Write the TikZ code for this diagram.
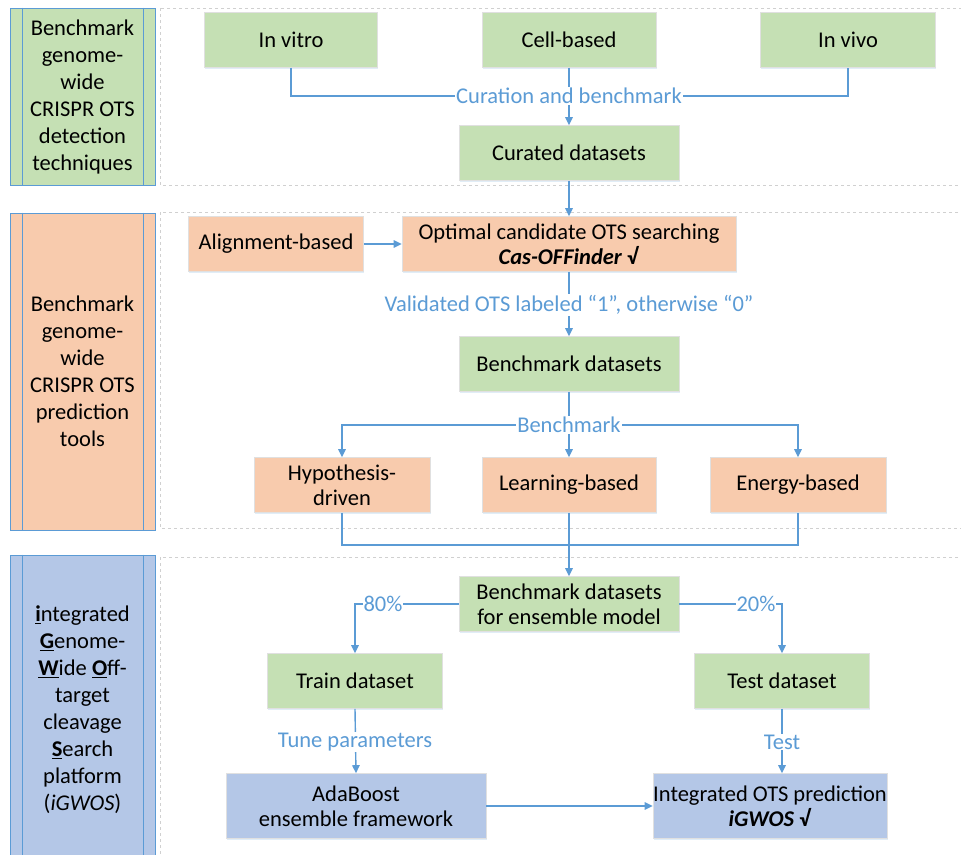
\documentclass[tikz,border=0pt]{standalone}
\usepackage{fontspec}
\setmainfont{Carlito}
\usetikzlibrary{arrows.meta,shadows}

\definecolor{boxgreen}{HTML}{C5E0B4}
\definecolor{boxorange}{HTML}{F8CBAD}
\definecolor{boxblue}{HTML}{B4C7E7}
\definecolor{flowblue}{HTML}{5B9BD5}
\definecolor{framegray}{HTML}{D0D0D0}

\tikzset{
	stage/.style={draw=black!12, line width=0.6pt, inner sep=0pt, align=center,
		minimum height=55pt, drop shadow={shadow xshift=0.6pt, shadow yshift=-1.8pt, opacity=0.18, fill=flowblue}},
	sidebar/.style={draw=flowblue, line width=1pt, inner sep=0pt, align=center,
		minimum width=145pt},
	flow/.style={draw=flowblue, line width=1.4pt},
	flowarrow/.style={flow, -{Triangle[length=8pt,width=7.5pt]}},
	flowlabel/.style={text=flowblue, fill=white, inner sep=1pt},
	panel/.style={draw=framegray, dashed, line width=0.8pt}
}
\newcommand{\ul}[1]{\underline{\textbf{#1}}}

\begin{document}
\begin{tikzpicture}[x=1pt, y=-1pt, font=\fontsize{22.5}{27}\selectfont]
	\useasboundingbox (0, 0) rectangle (961, 854);

	% Пунктирные рамки этапов
	\draw[panel] (160, 8) rectangle (975, 185);   % Рамка 1
	\draw[panel] (160, 212) rectangle (975, 528); % Рамка 2
	\draw[panel] (160, 557) rectangle (975, 870); % Рамка 3

	% Боковые подписи этапов
	\node[sidebar, fill=boxgreen, minimum height=177pt] (side1) at (82.5, 96.5)
		{Benchmark\\ genome-\\ wide\\ CRISPR OTS\\ detection\\ techniques};
	\node[sidebar, fill=boxorange, minimum height=317pt] (side2) at (82.5, 371.5)
		{Benchmark\\ genome-\\ wide\\ CRISPR OTS\\ prediction\\ tools};
	\node[sidebar, fill=boxblue, minimum height=310pt] (side3) at (82.5, 710)
		{\ul{i}ntegrated\\ \ul{G}enome-\\ \ul{W}ide \ul{O}ff-\\ target\\ cleavage\\ \ul{S}earch\\ platform\\ (\textit{iGWOS})};
	\foreach \s in {side1, side2, side3} {
		\draw[flowblue, line width=1pt] ([xshift=13pt]\s.north west) -- ([xshift=13pt]\s.south west);
		\draw[flowblue, line width=1pt] ([xshift=-12pt]\s.north east) -- ([xshift=-12pt]\s.south east);
	}

	% Этап 1: методы детекции
	\node[stage, fill=boxgreen, minimum width=173pt] (vitro) at (291, 40) {In vitro};
	\node[stage, fill=boxgreen, minimum width=174pt] (cell) at (569, 40) {Cell-based};
	\node[stage, fill=boxgreen, minimum width=175pt] (vivo) at (848, 40) {In vivo};
	\node[stage, fill=boxgreen, minimum width=220pt] (curated) at (569, 153) {Curated datasets};

	\coordinate (curL) at (291, 96);
	\coordinate (curR) at (848, 96);
	\draw[flow] (vitro.south) -- (curL) -- (curR) -- (vivo.south); % Линия сбора
	\draw[flowarrow] (cell.south) -- (curated.north);
	\node[flowlabel] (curlabel) at (569, 96) {Curation and benchmark};

	% Этап 2: инструменты предсказания
	\node[stage, fill=boxorange, minimum width=175pt] (align) at (276, 244) {Alignment-based};
	\node[stage, fill=boxorange, minimum width=334pt] (optimal) at (569, 244)
		{Optimal candidate OTS searching\\[-2pt] \textbf{\textit{Cas-OFFinder}} \textbf{√}};
	\node[stage, fill=boxgreen, minimum width=220pt] (bench) at (569, 364) {Benchmark datasets};

	\draw[flowarrow] (curated.south) -- (optimal.north);
	\draw[flowarrow] (align.east) -- (optimal.west);
	\draw[flowarrow] (optimal.south) -- (bench.north);
	\node[flowlabel] (vallabel) at (569, 305) {Validated OTS labeled “1”, otherwise “0”};

	\node[stage, fill=boxorange, minimum width=176pt] (hypo) at (342, 485) {Hypothesis-\\[-2pt]driven};
	\node[stage, fill=boxorange, minimum width=174pt] (learn) at (569, 485) {Learning-based};
	\node[stage, fill=boxorange, minimum width=176pt] (energy) at (798, 485) {Energy-based};

	\coordinate (splitC) at (569, 425);
	\coordinate (splitL) at (342, 425);
	\coordinate (splitR) at (798, 425);
	\draw[flow] (bench.south) -- (splitC);
	\draw[flowarrow] (splitC) -- (splitL) -- (hypo.north);
	\draw[flowarrow] (splitC) -- (splitR) -- (energy.north);
	\draw[flowarrow] (splitC) -- (learn.north);
	\node[flowlabel] (benchlabel) at (569, 425) {Benchmark};

	% Этап 3: iGWOS
	\node[stage, fill=boxgreen, minimum width=220pt] (ensemble) at (569, 604)
		{Benchmark datasets\\[-2pt] for ensemble model};
	\coordinate (joinL) at (342, 545);
	\coordinate (joinR) at (798, 545);
	\draw[flow] (hypo.south) -- (joinL) -- (joinR) -- (energy.south);
	\draw[flowarrow] (learn.south) -- (ensemble.north);

	\node[stage, fill=boxgreen, minimum width=175pt] (train) at (355, 681) {Train dataset};
	\node[stage, fill=boxgreen, minimum width=175pt] (test) at (782, 681) {Test dataset};
	\coordinate (trainT) at (355, 604);
	\coordinate (testT) at (782, 604);
	\draw[flowarrow] (ensemble.west) -- (trainT) -- (train.north);
	\draw[flowarrow] (ensemble.east) -- (testT) -- (test.north);
	\node[flowlabel] (lab80) at (383, 604) {80\%};
	\node[flowlabel] (lab20) at (756, 604) {20\%};

	\node[stage, fill=boxblue, minimum width=260pt, minimum height=65pt] (ada) at (356, 806)
		{AdaBoost\\[-2pt] ensemble framework};
	\node[stage, fill=boxblue, minimum width=234pt, minimum height=65pt] (integ) at (770, 806)
		{Integrated OTS prediction\\[-2pt] \textbf{\textit{iGWOS}} \textbf{√}};
	\draw[flowarrow] (train.south) -- (ada.north);
	\draw[flowarrow] (test.south) -- (integ.north -| test.south);
	\draw[flowarrow] (ada.east) -- (integ.west);
	\node[flowlabel] (tunelabel) at (355, 742) {Tune parameters};
	\node[flowlabel] (testlabel) at (782, 742) {Test};
\end{tikzpicture}
\end{document}
